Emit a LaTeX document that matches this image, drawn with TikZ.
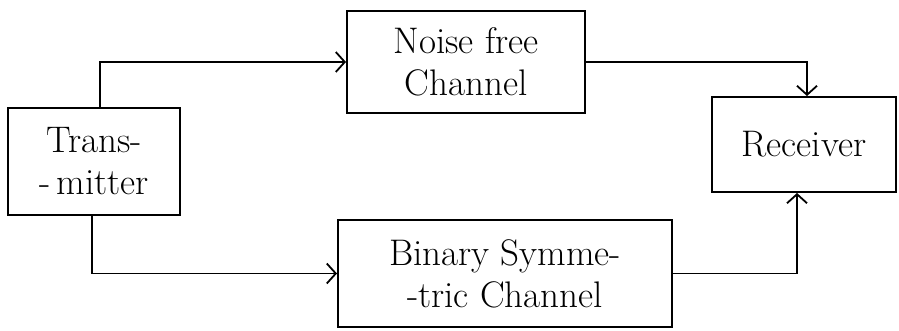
\documentclass[tikz,border=0pt]{standalone}
\usetikzlibrary{arrows.meta}
\begin{document}
\begin{tikzpicture}[x=1pt,y=-1pt,
  blk/.style={draw,line width=2pt,align=center,inner sep=0pt,font=\fontsize{37}{42}\selectfont},
  conn/.style={line width=1.8pt,-{Straight Barb[length=9pt,width=20pt,line width=1.8pt]}}]
\useasboundingbox (0,0) rectangle (899,331);
\node[blk,minimum width=172,minimum height=107] (tx) at (94,161.5) {Trans-\\-\,mitter};
\node[blk,minimum width=238,minimum height=102] (noise) at (466,62) {Noise free\\Channel};
\node[blk,minimum width=334,minimum height=107] (bin) at (505,273.5) {Binary Symme-\\-tric Channel};
\node[blk,minimum width=184,minimum height=95] (rx) at (804,144.5) {Receiver};
\draw[conn] ([xshift=6pt]tx.north) |- (noise.west);
\draw[conn] ([xshift=-2pt]tx.south) |- (bin.west);
\draw[conn] (noise.east) -| ([xshift=3pt]rx.north);
\draw[conn] (bin.east) -| ([xshift=-7pt]rx.south);
\end{tikzpicture}
\end{document}
